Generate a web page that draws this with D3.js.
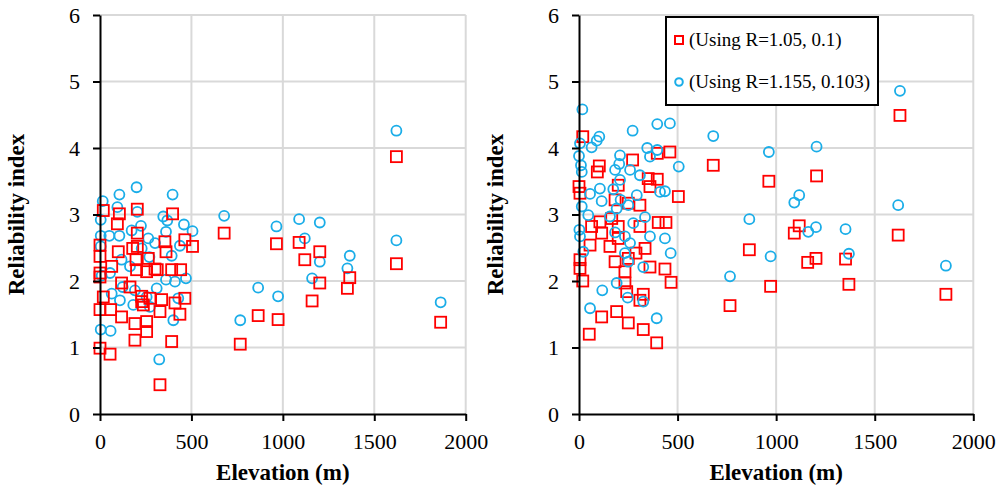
<!DOCTYPE html>
<html>
<head>
<meta charset="utf-8">
<script src="https://cdn.jsdelivr.net/npm/d3@7"></script>
<style>
  body { margin: 0; background: #fff; }
  text { font-family: "Liberation Serif", "Times New Roman", serif; }
</style>
</head>
<body>
<div id="vis"></div>
<script>
// tick values shared by both panels
const xTicks = [0, 500, 1000, 1500, 2000];
const yTicks = [0, 1, 2, 3, 4, 5, 6];

const legendLabels = ['(Using R=1.05, 0.1)', '(Using R=1.155, 0.103)'];

// [elevation (m), reliability index]
const leftSquares = [
  [18, 3.06], [106, 3.01], [204, 3.08], [397, 3.01], [95, 2.86], [204, 2.72], [355, 2.59], [464, 2.62],
  [506, 2.52], [0, 2.54], [0, 2.37], [100, 2.44], [179, 2.49], [204, 2.52], [361, 2.44], [64, 2.22],
  [197, 2.32], [264, 2.34], [0, 2.12], [0, 2.06], [200, 2.17], [255, 2.14], [301, 2.18], [392, 2.17],
  [441, 2.17], [313, 2.17], [118, 1.97], [164, 1.91], [18, 1.76], [228, 1.77], [273, 1.74], [337, 1.72],
  [410, 1.67], [464, 1.74], [228, 1.69], [237, 1.64], [0, 1.57], [58, 1.57], [118, 1.46], [191, 1.36],
  [255, 1.39], [328, 1.54], [437, 1.50], [255, 1.24], [191, 1.11], [392, 1.09], [0, 0.99], [55, 0.90],
  [328, 0.44],
  [679, 2.72], [767, 1.05], [865, 1.48], [965, 2.56], [974, 1.42], [1089, 2.58], [1120, 2.32],
  [1160, 1.70], [1202, 2.44], [1202, 1.97], [1353, 1.89], [1366, 2.05], [1621, 3.87], [1621, 2.26],
  [1863, 1.38]
];
const leftCircles = [
  [200, 3.41], [106, 3.30], [397, 3.30], [15, 3.20], [95, 3.11], [204, 3.04], [346, 2.97], [368, 2.91],
  [4, 2.92], [459, 2.85], [506, 2.75], [224, 2.83], [361, 2.74], [173, 2.76], [4, 2.68], [51, 2.68],
  [106, 2.68], [264, 2.64], [301, 2.57], [437, 2.53], [4, 2.52], [228, 2.49], [392, 2.38], [118, 2.32],
  [270, 2.36], [164, 2.22], [55, 2.12], [470, 2.04], [361, 2.02], [410, 1.99], [9, 2.08], [124, 1.91],
  [191, 1.86], [310, 1.89], [64, 1.81], [109, 1.71], [428, 1.74], [273, 1.61], [401, 1.41], [4, 1.27],
  [58, 1.25], [324, 0.82], [182, 1.64], [255, 1.76],
  [679, 2.98], [767, 1.41], [865, 1.90], [965, 2.82], [974, 1.77], [1089, 2.93], [1120, 2.64],
  [1160, 2.04], [1202, 2.88], [1202, 2.29], [1353, 2.19], [1366, 2.38], [1621, 4.26], [1621, 2.61],
  [1863, 1.68]
];
const rightSquares = [
  [19, 4.17], [103, 3.73], [93, 3.64], [272, 3.82], [461, 3.94], [397, 3.92], [0, 3.42], [5, 3.32],
  [351, 3.54], [397, 3.53], [360, 3.42], [199, 3.44], [504, 3.27], [183, 3.22], [250, 3.17], [309, 3.14],
  [106, 2.89], [64, 2.82], [115, 2.72], [166, 2.94], [402, 2.88], [441, 2.88], [309, 2.82], [199, 2.82],
  [199, 2.64], [56, 2.54], [5, 2.32], [5, 2.19], [19, 2.00], [157, 2.52], [335, 2.49], [183, 2.29],
  [289, 2.42], [360, 2.21], [436, 2.18], [233, 2.14], [250, 2.34], [467, 1.98], [233, 1.97], [242, 1.84],
  [326, 1.80], [309, 1.71], [115, 1.46], [191, 1.54], [250, 1.37], [326, 1.27], [52, 1.20], [394, 1.07],
  [681, 3.74], [766, 1.63], [864, 2.47], [963, 3.50], [972, 1.92], [1092, 2.72], [1117, 2.83],
  [1160, 2.28], [1205, 3.58], [1202, 2.34], [1352, 2.33], [1369, 1.95], [1628, 4.49], [1619, 2.69],
  [1861, 1.80]
];
const rightCircles = [
  [17, 4.58], [103, 4.17], [90, 4.11], [64, 4.01], [5, 4.07], [0, 3.88], [272, 4.26], [397, 4.36],
  [461, 4.37], [346, 4.00], [397, 3.97], [360, 3.87], [208, 3.89], [10, 3.74], [204, 3.76], [14, 3.64],
  [183, 3.67], [259, 3.67], [309, 3.59], [506, 3.72], [208, 3.52], [106, 3.39], [56, 3.31], [174, 3.38],
  [293, 3.29], [411, 3.34], [436, 3.35], [115, 3.20], [14, 3.12], [211, 3.22], [250, 3.14], [191, 3.09],
  [47, 2.99], [157, 2.97], [335, 2.96], [2, 2.77], [5, 2.67], [183, 2.73], [275, 2.87], [233, 2.67],
  [360, 2.67], [436, 2.64], [22, 2.44], [259, 2.57], [233, 2.42], [250, 2.29], [465, 2.42], [326, 2.21],
  [191, 1.97], [118, 1.86], [247, 1.75], [326, 1.69], [56, 1.59], [394, 1.44],
  [681, 4.18], [766, 2.07], [864, 2.93], [963, 3.94], [972, 2.37], [1092, 3.18], [1117, 3.29],
  [1163, 2.74], [1205, 4.02], [1202, 2.81], [1352, 2.78], [1369, 2.41], [1628, 4.86], [1619, 3.14],
  [1861, 2.23]
];

const width = 1001, height = 492;
const red = '#ff0000', blue = '#1aade8';
const serif = '"Liberation Serif", "Times New Roman", serif';

const svg = d3.select('#vis').append('svg')
  .attr('width', width)
  .attr('height', height);

// one panel: plot area left/right edges in pixels, shared vertical range
function drawPanel(x0, x1, squares, circles, squaresOnTop) {
  const xScale = d3.scaleLinear().domain([0, 2000]).range([x0, x1]);
  const yScale = d3.scaleLinear().domain([0, 6]).range([414, 15]);
  const g = svg.append('g');

  // grid lines
  g.append('g').selectAll('line')
    .data(yTicks.filter(d => d > 0)).enter().append('line')
    .attr('x1', x0).attr('x2', x1)
    .attr('y1', d => yScale(d)).attr('y2', d => yScale(d))
    .attr('stroke', '#d9d9d9').attr('stroke-width', 2);
  g.append('g').selectAll('line')
    .data(xTicks.filter(d => d > 0)).enter().append('line')
    .attr('x1', d => xScale(d)).attr('x2', d => xScale(d))
    .attr('y1', yScale(0)).attr('y2', yScale(6))
    .attr('stroke', '#d9d9d9').attr('stroke-width', 2);

  const drawSquares = () => g.append('g').selectAll('rect')
    .data(squares).enter().append('rect')
    .attr('x', d => xScale(d[0]) - 5.5)
    .attr('y', d => yScale(d[1]) - 5.5)
    .attr('width', 11).attr('height', 11)
    .attr('fill', 'none').attr('stroke', red).attr('stroke-width', 1.8);
  const drawCircles = () => g.append('g').selectAll('circle')
    .data(circles).enter().append('circle')
    .attr('cx', d => xScale(d[0]))
    .attr('cy', d => yScale(d[1]))
    .attr('r', 5)
    .attr('fill', 'none').attr('stroke', blue).attr('stroke-width', 1.8);
  if (squaresOnTop) { drawCircles(); drawSquares(); }
  else { drawSquares(); drawCircles(); }

  // axes
  const xAxis = g.append('g')
    .attr('transform', `translate(0,${yScale(0)})`)
    .call(d3.axisBottom(xScale).tickValues(xTicks).tickFormat(d3.format('d'))
      .tickSize(7).tickSizeOuter(0).tickPadding(12));
  const yAxis = g.append('g')
    .attr('transform', `translate(${x0},0)`)
    .call(d3.axisLeft(yScale).tickValues(yTicks).tickFormat(d3.format('d'))
      .tickSize(7).tickSizeOuter(0).tickPadding(13));
  [xAxis, yAxis].forEach(a => {
    a.attr('font-family', serif).attr('font-size', 22);
    a.select('.domain').attr('stroke', '#000').attr('stroke-width', 2);
    a.selectAll('.tick line').attr('stroke', '#000').attr('stroke-width', 2);
    a.selectAll('.tick text').attr('fill', '#000');
  });

  // axis titles
  g.append('text')
    .attr('x', (x0 + x1) / 2)
    .attr('y', 480)
    .attr('text-anchor', 'middle')
    .attr('font-family', serif)
    .attr('font-size', 23)
    .attr('font-weight', 'bold')
    .text('Elevation (m)');
  g.append('text')
    .attr('transform', `translate(${x0 - 76},${(yScale(0) + yScale(6)) / 2}) rotate(-90)`)
    .attr('text-anchor', 'middle')
    .attr('font-family', serif)
    .attr('font-size', 23)
    .attr('font-weight', 'bold')
    .text('Reliability index');
}

drawPanel(100, 465.7, leftSquares, leftCircles, true);
drawPanel(579, 973.3, rightSquares, rightCircles, false);

// legend in the right panel
const legend = svg.append('g').attr('transform', 'translate(666,17)');
legend.append('rect')
  .attr('width', 212).attr('height', 88)
  .attr('fill', '#fff').attr('stroke', '#000').attr('stroke-width', 2);
legend.append('rect')
  .attr('x', 9).attr('y', 19).attr('width', 8).attr('height', 8)
  .attr('fill', 'none').attr('stroke', red).attr('stroke-width', 2);
legend.append('circle')
  .attr('cx', 13).attr('cy', 65).attr('r', 3.8)
  .attr('fill', 'none').attr('stroke', blue).attr('stroke-width', 2);
legend.selectAll('text.lbl')
  .data(legendLabels).enter().append('text')
  .attr('class', 'lbl')
  .attr('x', 23)
  .attr('y', (d, i) => 29 + i * 42)
  .attr('font-family', serif)
  .attr('font-size', 19)
  .text(d => d);
</script>
</body>
</html>
